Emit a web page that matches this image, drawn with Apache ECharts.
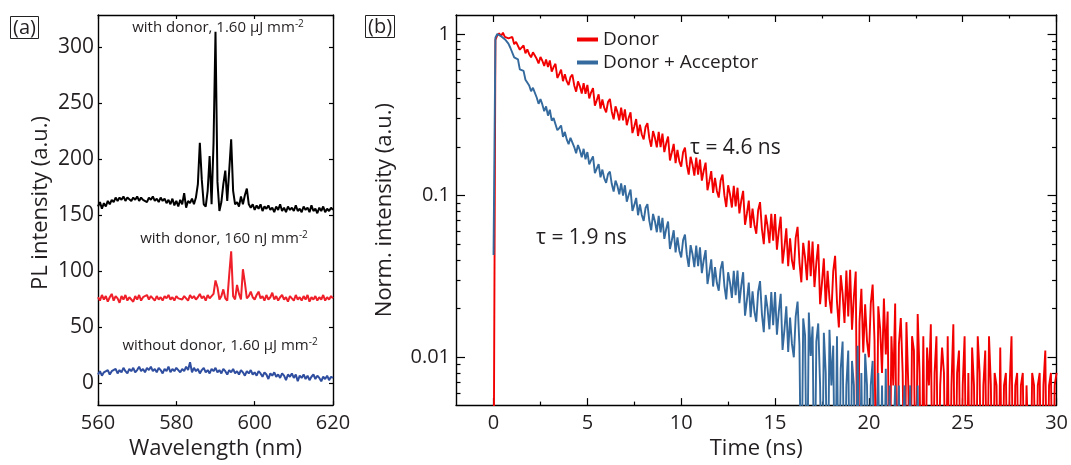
<!DOCTYPE html>
<html><head><meta charset="utf-8">
<script src="https://cdn.jsdelivr.net/npm/echarts@6/dist/echarts.min.js"></script>
<style>html,body{margin:0;padding:0;background:#fff}#c{width:1071px;height:465px}</style>
</head><body><div id="c"></div><script>
// ---------- Panel (a): PL spectra, wavelength grid 560..620 nm, 0.5 nm step ----------
const wlStart = 560, wlStep = 0.5;
const plWithDonorHigh = [
158,162,156,161,158,163,160,164,162,166,
163,166,164,167,163,166,165,163,166,164,
167,163,166,164,165,162,166,164,167,163,
165,162,166,163,165,161,164,160,165,159,
163,158,164,160,170,157,163,161,165,160,
166,178,215,182,160,158,172,203,160,215,
314,180,154,162,178,190,163,190,218,172,
160,162,158,167,160,168,174,160,157,160,
155,159,156,160,154,158,156,159,155,157,
153,158,155,160,154,157,153,158,155,157,
154,159,154,156,153,158,155,157,153,159,
154,156,152,157,154,158,153,156,154,157,
155];
const plWithDonorLow = [
77,74,79,75,78,73,77,80,74,78,
76,72,78,75,79,74,77,76,73,78,
75,79,74,77,76,79,75,78,76,74,
78,75,77,74,78,76,79,75,77,74,
78,76,77,75,78,76,74,79,76,78,
75,77,80,76,78,74,79,76,78,80,
92,86,75,78,84,76,74,97,118,78,
75,88,80,75,102,90,76,78,82,77,
75,79,82,76,78,74,79,75,77,81,
75,78,74,77,79,75,77,73,78,76,
74,79,75,77,74,78,75,79,73,77,
75,78,74,77,75,79,74,77,75,78,
76];
const plWithoutDonor = [
8,11,7,10,9,12,8,11,10,13,
9,12,10,14,11,9,13,11,14,10,
12,15,11,13,10,14,12,15,11,13,
10,14,12,9,13,11,15,10,13,11,
14,12,10,13,11,15,12,19,10,14,
11,13,9,12,14,10,12,9,13,11,
14,10,12,9,13,11,8,12,10,13,
9,11,8,12,10,7,11,9,12,8,
10,7,11,9,6,10,8,4,9,7,
10,6,8,5,9,7,3,8,6,9,
5,8,2,7,5,8,4,7,3,6,
8,4,7,5,2,6,4,7,3,6,
5];
const yTicksA = [0, 50, 100, 150, 200, 250, 300];

// ---------- Panel (b): normalised decays, time grid 0..30 ns, 0.1 ns step ----------
const tStart = 0, tStep = 0.1;
const donor = [
0,0.92,0.98,1.01,0.97,1.02,0.96,0.98,0.94,0.95,
0.96,0.865,0.894,0.914,0.8,0.822,0.85,0.761,0.805,0.751,
0.718,0.771,0.783,0.703,0.658,0.721,0.684,0.635,0.697,0.625,
0.686,0.586,0.625,0.655,0.535,0.565,0.603,0.511,0.565,0.511,
0.483,0.542,0.561,0.481,0.44,0.509,0.475,0.429,0.497,0.427,
0.484,0.4,0.436,0.463,0.361,0.389,0.424,0.346,0.394,0.349,
0.328,0.38,0.397,0.331,0.297,0.357,0.329,0.292,0.351,0.292,
0.342,0.273,0.303,0.328,0.244,0.268,0.298,0.234,0.275,0.239,
0.223,0.266,0.281,0.227,0.201,0.251,0.228,0.199,0.248,0.2,
0.242,0.186,0.211,0.232,0.165,0.185,0.209,0.159,0.192,0.163,
0.151,0.186,0.198,0.155,0.135,0.174,0.156,0.133,0.172,0.135,
0.167,0.124,0.143,0.16,0.108,0.123,0.142,0.104,0.129,0.107,
0.0973,0.124,0.135,0.1007,0.0851,0.116,0.102,0.0845,0.115,0.0859,
0.112,0.0776,0.0933,0.107,0.0661,0.0776,0.0933,0.0631,0.0832,0.0661,
0.0581,0.0813,0.0912,0.0622,0.0501,0.0762,0.0649,0.0508,0.0773,0.0527,
0.0769,0.0463,0.0605,0.0741,0.038,0.0481,0.0628,0.0366,0.0545,0.0398,
0.0348,0.0548,0.0641,0.0387,0.0291,0.0511,0.0414,0.03,0.0527,0.0318,
0.0521,0.0272,0.0385,0.0501,0.0213,0.0289,0.0409,0.0205,0.0343,0.023,
0.0187,0.0341,0.0424,0.022,0.0153,0.0322,0.0247,0.0163,0.0344,0.0179,
0.0348,0.0148,0.0237,0.0339,0,0.0166,0.0265,0.0107,0.0213,0.0126,
0.01,0.0214,0.0282,0.0126,0,0.0207,0.015,0.008,0.0231,0.0104,
0.0192,0,0.0135,0.0067,0.0215,0,0.012,0.0175,0.008,0,
0.0165,0.0067,0,0.0135,0.011,0,0.0185,0.008,0,0.0135,
0,0.0115,0.0067,0.016,0,0.008,0.0135,0,0.0067,0.0115,
0.008,0,0.0135,0,0.0067,0.016,0,0.008,0.011,0,
0.0067,0.0135,0,0.008,0,0.0115,0.0067,0,0.0135,0.008,
0,0.0067,0.011,0,0.0135,0.0067,0,0.008,0.0067,0,
0.0115,0,0.0067,0.008,0,0.0067,0.0135,0,0.0067,0.008,
0,0.0067,0.008,0,0.0067,0.0067,0,0.008,0.0067,0,
0.0067,0.008,0,0.0067,0.011,0,0.0067,0.008,0,0.0067,
0.008];
const donorAcceptor = [
0.043,0.95,1.0,0.99,0.97,0.96,0.93,0.9,0.87,0.82,
0.809,0.718,0.711,0.698,0.605,0.597,0.592,0.522,0.527,0.481,
0.443,0.465,0.461,0.405,0.37,0.396,0.367,0.333,0.357,0.313,
0.34,0.291,0.302,0.309,0.254,0.262,0.272,0.231,0.248,0.223,
0.208,0.228,0.232,0.2,0.183,0.206,0.191,0.173,0.195,0.168,
0.186,0.156,0.166,0.175,0.138,0.147,0.157,0.13,0.145,0.128,
0.12,0.136,0.141,0.118,0.106,0.124,0.115,0.102,0.119,0.1,
0.116,0.0918,0.101,0.109,0.0805,0.0877,0.0968,0.0757,0.0883,0.076,
0.0698,0.0839,0.0887,0.0701,0.0611,0.0771,0.0693,0.0594,0.075,0.0593,
0.0728,0.054,0.0622,0.0692,0.0468,0.053,0.0611,0.0445,0.0552,0.0457,
0.0415,0.0531,0.0575,0.043,0.0363,0.0494,0.0436,0.0361,0.0491,0.0366,
0.0479,0.0332,0.04,0.046,0.0284,0.0335,0.0404,0.0274,0.0361,0.0288,
0.0258,0.0352,0.0393,0.0277,0.0228,0.0336,0.029,0.0233,0.0343,0.0242,
0.0344,0.0216,0.0277,0.0336,0.0181,0.0226,0.029,0.0177,0.0256,0.0192,
0.0166,0.0255,0.0296,0.0185,0.0143,0.0243,0.02,0.0149,0.0253,0.0158,
0.0253,0.0138,0.0192,0.0247,0.0111,0.0148,0.0207,0.0108,0.0176,0.0121,
0.01,0.0179,0.0221,0.0118,0,0.0174,0.0136,0,0.0189,0.0102,
0.0155,0,0.0125,0.0162,0.0067,0,0.0142,0.008,0,0.0148,
0.0067,0.0118,0,0.0135,0,0.0085,0.0125,0,0.0067,0.011,
0,0.0095,0.0067,0,0.0118,0,0.008,0,0.0105,0.0067,
0,0.0067,0.0095,0,0,0.008,0,0.0067,0,0.0085,
0,0.0067,0,0,0.0067,0,0.0067,0,0,0.0067,
0,0,0.0067,0,0,0,0.0067,0,0,0,
0];
const xTicksB = [0, 5, 10, 15, 20, 25, 30];
const xMinorB = [2.5, 7.5, 12.5, 17.5, 22.5, 27.5];
const yTicksB = [0.01, 0.1, 1];
const yMinorB = [0.006,0.007,0.008,0.009,0.02,0.03,0.04,0.05,0.06,0.07,0.08,0.09,0.2,0.3,0.4,0.5,0.6,0.7,0.8,0.9];

// ---------- build ----------
const FONT = '"Open Sans", sans-serif';
const TXT = '#231f20';
const LOGMIN = Math.log10(0.00506), LOGMAX = Math.log10(1.312);
const lg = v => v > 0 ? Math.log10(v) : -3;
const axisLine = {show: true, onZero: false, lineStyle: {color: '#000', width: 1.4}};
const hiddenLine = {show: false, onZero: false};
const tickStyle = {color: '#000', width: 1.2};

function ax(o) {
  return Object.assign({
    type: 'value', splitLine: {show: false}, axisLine: axisLine,
    axisLabel: {show: false}, nameTextStyle: {fontFamily: FONT, fontSize: 22, color: TXT}
  }, o);
}
const lbl = (size) => ({fontFamily: FONT, fontSize: size, color: TXT});

const xAxes = [
  ax({gridIndex: 0, position: 'bottom', min: 560, max: 620, interval: 20,
      axisTick: {inside: true, length: 4, lineStyle: tickStyle},
      axisLabel: Object.assign({show: true, margin: 8}, lbl(20)),
      name: 'Wavelength (nm)', nameLocation: 'middle', nameGap: 32}),
  ax({gridIndex: 0, position: 'top', min: 560, max: 620, interval: 20,
      axisTick: {inside: true, length: 4, lineStyle: tickStyle}}),
  ax({gridIndex: 1, position: 'bottom', min: -2, max: 30,
      axisTick: {inside: true, length: 7, lineStyle: tickStyle, customValues: xTicksB},
      axisLabel: Object.assign({show: true, margin: 8, customValues: xTicksB}, lbl(20)),
      name: 'Time (ns)', nameLocation: 'middle', nameGap: 28}),
  ax({gridIndex: 1, position: 'bottom', min: -2, max: 30, axisLine: hiddenLine,
      axisTick: {inside: true, length: 3.5, lineStyle: tickStyle, customValues: xMinorB}}),
  ax({gridIndex: 1, position: 'top', min: -2, max: 30,
      axisTick: {inside: true, length: 7, lineStyle: tickStyle, customValues: xTicksB}}),
  ax({gridIndex: 1, position: 'top', min: -2, max: 30, axisLine: hiddenLine,
      axisTick: {inside: true, length: 3.5, lineStyle: tickStyle, customValues: xMinorB}})
];
const yLogTicks = yTicksB.map(v => Math.log10(v));
const yLogMinor = yMinorB.map(v => Math.log10(v));
const yAxes = [
  ax({gridIndex: 0, position: 'left', min: -19.3, max: 329,
      axisTick: {inside: true, length: 4, lineStyle: tickStyle, customValues: yTicksA},
      axisLabel: Object.assign({show: true, margin: 4, customValues: yTicksA}, lbl(21)),
      name: 'PL intensity (a.u.)', nameLocation: 'middle', nameGap: 46,
      nameTextStyle: {fontFamily: FONT, fontSize: 22, color: TXT, padding: [0, 0, 0, 14]}}),
  ax({gridIndex: 0, position: 'right', min: -19.3, max: 329,
      axisTick: {inside: true, length: 4, lineStyle: tickStyle, customValues: yTicksA}}),
  ax({gridIndex: 1, position: 'left', min: LOGMIN, max: LOGMAX,
      axisTick: {inside: true, length: 9, lineStyle: tickStyle, customValues: yLogTicks},
      axisLabel: Object.assign({show: true, margin: 6, customValues: yLogTicks,
        formatter: v => { const i = yLogTicks.findIndex(t => Math.abs(t - v) < 1e-6); return i >= 0 ? String(yTicksB[i]) : ''; }}, lbl(20)),
      name: 'Norm. intensity (a.u.)', nameLocation: 'middle', nameGap: 60}),
  ax({gridIndex: 1, position: 'left', min: LOGMIN, max: LOGMAX, axisLine: hiddenLine,
      axisTick: {inside: true, length: 4.5, lineStyle: tickStyle, customValues: yLogMinor}}),
  ax({gridIndex: 1, position: 'right', min: LOGMIN, max: LOGMAX,
      axisTick: {inside: true, length: 9, lineStyle: tickStyle, customValues: yLogTicks}}),
  ax({gridIndex: 1, position: 'right', min: LOGMIN, max: LOGMAX, axisLine: hiddenLine,
      axisTick: {inside: true, length: 4.5, lineStyle: tickStyle, customValues: yLogMinor}})
];

const wl = i => +(wlStart + i * wlStep).toFixed(2);
const tt = i => +(tStart + i * tStep).toFixed(2);
const lineA = (arr, color) => ({type: 'line', xAxisIndex: 0, yAxisIndex: 0, symbol: 'none', silent: true,
  data: arr.map((v, i) => [wl(i), v]), lineStyle: {color, width: 2}, color});
const lineB = (name, arr, color) => ({type: 'line', name, xAxisIndex: 2, yAxisIndex: 2, symbol: 'none', silent: true,
  clip: true, data: arr.map((v, i) => [tt(i), lg(v)]), lineStyle: {color, width: 1.9}, color});

const sup = (main, x, y) => ({type: 'text', x, y, style: {
  text: '{t|' + main + '}{s|-2}', textAlign: 'center', textVerticalAlign: 'middle',
  rich: {t: {fontFamily: FONT, fontSize: 15, fill: TXT, color: TXT, lineHeight: 18},
         s: {fontFamily: FONT, fontSize: 10, fill: TXT, color: TXT, verticalAlign: 'top', lineHeight: 18}}}});

const option = {
  animation: false,
  backgroundColor: '#fff',
  grid: [
    {left: 98, top: 15, width: 235, height: 391, containLabel: false},
    {left: 456, top: 15, width: 601, height: 395, containLabel: false}
  ],
  title: [
    {text: '(a)', left: 10, top: 16, padding: [1, 3, 0, 3], borderColor: '#222', borderWidth: 1,
     textStyle: {fontFamily: FONT, fontSize: 20, fontWeight: 'normal', color: TXT, lineHeight: 22}},
    {text: '(b)', left: 365, top: 15, padding: [1, 3, 0, 3], borderColor: '#222', borderWidth: 1,
     textStyle: {fontFamily: FONT, fontSize: 20, fontWeight: 'normal', color: TXT, lineHeight: 22}}
  ],
  legend: {
    data: ['Donor', 'Donor + Acceptor'], orient: 'vertical', left: 572, top: 23,
    icon: 'rect', itemWidth: 21, itemHeight: 4, itemGap: 0,
    textStyle: {fontFamily: FONT, fontSize: 19, color: TXT, lineHeight: 23}
  },
  xAxis: xAxes,
  yAxis: yAxes,
  series: [
    lineA(plWithDonorHigh, '#000000'),
    lineA(plWithDonorLow, '#f0202a'),
    lineA(plWithoutDonor, '#2f4e9f'),
    lineB('Donor', donor, '#f20000'),
    lineB('Donor + Acceptor', donorAcceptor, '#346a9d')
  ],
  graphic: [
    sup('with donor, 1.60 μJ mm', 218, 28),
    sup('with donor, 160 nJ mm', 224, 239),
    sup('without donor, 1.60 μJ mm', 220, 346),
    {type: 'text', x: 690, y: 148, style: {text: 'τ = 4.6 ns', font: '21px ' + FONT, fill: TXT, textVerticalAlign: 'middle'}},
    {type: 'text', x: 536, y: 238, style: {text: 'τ = 1.9 ns', font: '21px ' + FONT, fill: TXT, textVerticalAlign: 'middle'}}
  ]
};
const chart = echarts.init(document.getElementById('c'), null, {renderer: 'canvas'});
chart.setOption(option);
</script></body></html>
